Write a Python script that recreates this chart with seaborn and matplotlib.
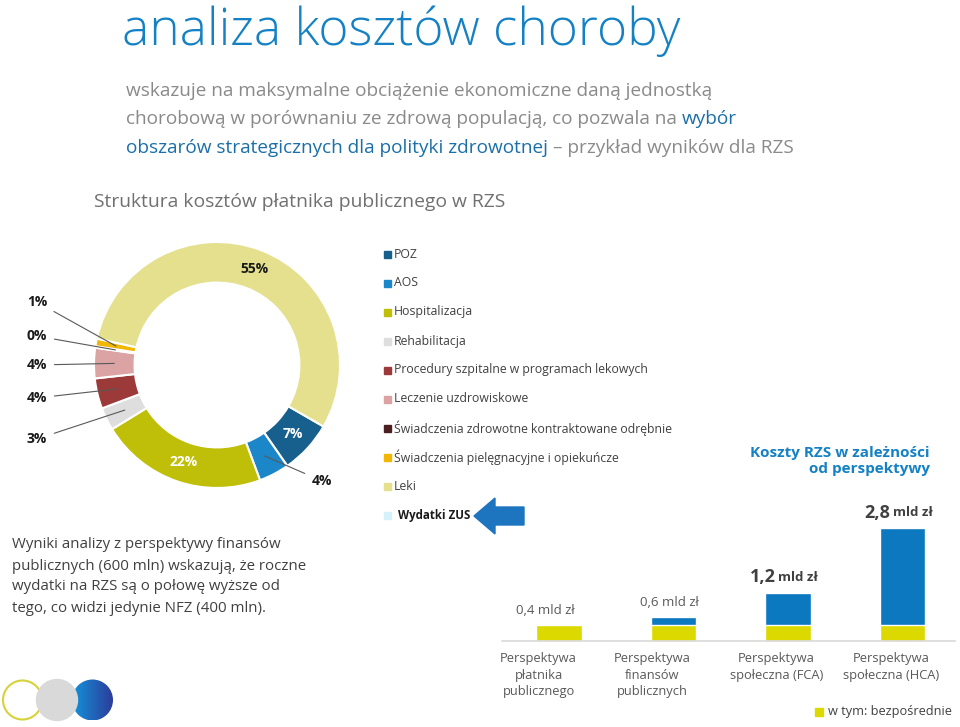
import numpy as np
import matplotlib
matplotlib.use('Agg')
import matplotlib.pyplot as plt
import matplotlib.patches as mpatches
from matplotlib.colors import LinearSegmentedColormap
import seaborn as sns

# --- data: structure of public payer costs (donut) ---
cost_categories = ['POZ', 'AOS', 'Hospitalizacja', 'Rehabilitacja',
                   'Procedury szpitalne w programach lekowych', 'Leczenie uzdrowiskowe',
                   'Świadczenia zdrowotne kontraktowane odrębnie',
                   'Świadczenia pielęgnacyjne i opiekuńcze', 'Leki']
cost_shares = [7, 4, 22, 3, 4, 4, 0.2, 1, 55]
share_labels = ['7%', '4%', '22%', '3%', '4%', '4%', '0%', '1%', '55%']
cost_colors = ['#175f8c', '#1b87c9', '#bfbe08', '#dedede', '#9b3a38',
               '#dba3a3', '#4b1f22', '#f2b705', '#e4e08d']

# --- data: costs by perspective (bars) ---
perspectives = ['Perspektywa\npłatnika\npublicznego', 'Perspektywa\nfinansów\npublicznych',
                'Perspektywa\nspołeczna (FCA)', 'Perspektywa\nspołeczna (HCA)']
total_cost = [0.4, 0.6, 1.2, 2.8]   # mld zł
direct_cost = [0.4, 0.4, 0.4, 0.4]  # w tym: bezpośrednie
cost_labels = ['0,4', '0,6', '1,2', '2,8']
emphasised = [False, False, True, True]

W, H = 960, 727
BLUE_T = '#1581c5'
GRAY_T = '#8a8a8a'
DARK_T = '#404040'
BAR_BLUE = '#0b78c0'
BAR_YELLOW = '#dcd900'

sns.set_theme(style='white')
plt.rcParams['font.family'] = ['Open Sans', 'DejaVu Sans']


def fig_rect(x0, y0, w, h):
    return [x0 / W, 1 - (y0 + h) / H, w / W, h / H]


fig = plt.figure(figsize=(W / 100, H / 100), dpi=100)

# overlay axes in pixel units for the slide texts and decorations
ov = fig.add_axes([0, 0, 1, 1])
ov.axis('off')
renderer = fig.canvas.get_renderer()


def text_runs(x, y, parts, fontsize, **kw):
    space = fontsize * 0.27 * 100 / 72
    for s, color in parts:
        t = ov.text(x, y, s, color=color, fontsize=fontsize, **kw)
        x += t.get_window_extent(renderer=renderer).width + space


ov.text(122, 45, 'analiza kosztów choroby', fontsize=37, color=BLUE_T,
        fontweight='light', va='baseline')

sub_fs = 13.7
text_runs(126, 96, [('wskazuje na maksymalne obciążenie ekonomiczne daną jednostką', GRAY_T)],
          sub_fs, va='baseline')
text_runs(126, 124, [('chorobową w porównaniu ze zdrową populacją, co pozwala na', GRAY_T),
                     ('wybór', '#1a6fa8')], sub_fs, va='baseline')
text_runs(126, 153, [('obszarów strategicznych dla polityki zdrowotnej', '#1a6fa8'),
                     ('– przykład wyników dla RZS', GRAY_T)], sub_fs, va='baseline')

ov.text(94, 207, 'Struktura kosztów płatnika publicznego w RZS', fontsize=13.9,
        color='#707070', va='baseline')

# legend of the donut
for i, (cat, col) in enumerate(zip(cost_categories, cost_colors)):
    y = 254 + 29 * i
    ov.add_patch(mpatches.Rectangle((384, y - 3.5), 7, 7, color=col))
    ov.text(394, y, cat, fontsize=8.8, color=DARK_T, va='center')
ov.add_patch(mpatches.Rectangle((384, 512), 7, 7, color='#d5f1fa'))
ov.text(398, 516, 'Wydatki ZUS', fontsize=8.3, color='#1a1a1a', va='center', fontweight='bold')

# arrow pointing at "Wydatki ZUS"
ov.add_patch(mpatches.Polygon([(474, 516), (495, 498), (495, 507), (524, 507),
                               (524, 525), (495, 525), (495, 534)],
                              closed=True, color='#1d74bf'))

# left note
note = ['Wyniki analizy z perspektywy finansów',
        'publicznych (600 mln) wskazują, że roczne',
        'wydatki na RZS są o połowę wyższe od',
        'tego, co widzi jedynie NFZ (400 mln).']
for i, line in enumerate(note):
    ov.text(12, 545 + 21 * i, line, fontsize=10.8, color=DARK_T, va='center')

# bar chart title and legend
ov.text(930, 461, 'Koszty RZS w zależności\nod perspektywy', fontsize=11,
        color=BLUE_T, fontweight='bold', ha='right', va='center',
        multialignment='right', linespacing=1.1)
ov.add_patch(mpatches.Rectangle((815, 708), 8, 8, color=BAR_YELLOW))
ov.text(828, 712, 'w tym: bezpośrednie', fontsize=9.2, color=DARK_T, va='center')

# logo circles
ov.add_patch(mpatches.Circle((22.5, 700), 19.5, fill=False, ec='#d7d23c', lw=1.5))
ov.add_patch(mpatches.Circle((57, 700), 20.5, color='#d9d9d9'))
clip = mpatches.Circle((92.5, 700), 20.5, fc='none', ec='none')
ov.add_patch(clip)
grad = np.linspace(0, 1, 100).reshape(1, -1)
im = ov.imshow(grad, extent=[72, 113, 720.5, 679.5], aspect='auto',
               cmap=LinearSegmentedColormap.from_list('lg', ['#1592da', '#2c3d9b']))
im.set_clip_path(clip)

ov.set_xlim(0, W)
ov.set_ylim(H, 0)

# --- donut ---
CX, CY, R = 217, 365, 123
axp = fig.add_axes(fig_rect(CX - 150, CY - 150, 300, 300))
wedges, _ = axp.pie(cost_shares, colors=cost_colors, startangle=-30, counterclock=False,
                    radius=1, wedgeprops=dict(width=0.33, edgecolor='white', linewidth=1.5))
lim = 150 / R
axp.set_xlim(-lim, lim)
axp.set_ylim(-lim, lim)

inside = {0: 'white', 2: 'white', 8: '#1a1a1a'}
outside = {7: (47, 302, 'right'), 6: (47, 336, 'right'), 5: (47, 365, 'right'),
           4: (47, 398, 'right'), 3: (47, 439, 'right'), 1: (322, 481, 'center')}
for i, w in enumerate(wedges):
    ang = np.deg2rad((w.theta1 + w.theta2) / 2)
    mx, my = 0.835 * np.cos(ang), 0.835 * np.sin(ang)
    if i in inside:
        axp.text(mx, my, share_labels[i], color=inside[i], fontsize=10,
                 fontweight='bold', ha='center', va='center')
    else:
        px, py, ha = outside[i]
        axp.annotate(share_labels[i], xy=(mx, my),
                     xytext=((px - CX) / R, (CY - py) / R), textcoords='data',
                     ha=ha, va='center', fontsize=10, fontweight='bold', color='#1a1a1a',
                     annotation_clip=False,
                     arrowprops=dict(arrowstyle='-', color='#595959', lw=0.8,
                                     shrinkA=3, shrinkB=0))

# --- bars ---
axb = fig.add_axes(fig_rect(502, 440, 453, 201))
sns.barplot(x=perspectives, y=total_cost, color=BAR_BLUE, saturation=1, width=0.4, ax=axb)
sns.barplot(x=perspectives, y=direct_cost, color=BAR_YELLOW, saturation=1, width=0.4, ax=axb)
axb.set_xlim(-0.5, 3.46)
axb.set_ylim(0, 201 / 40.4)
axb.set_yticks([])
axb.set_xlabel('')
axb.set_ylabel('')
axb.set_xticks(np.arange(len(perspectives)) + np.array([-0.18, -0.19, -0.1, -0.1]))
axb.set_xticklabels(perspectives, fontsize=9.3, color='#595959', linespacing=1.35)
axb.tick_params(axis='x', length=0, pad=8)
sns.despine(ax=axb, left=True)
axb.spines['bottom'].set_color('#d9d9d9')
axb.spines['bottom'].set_linewidth(1.2)
axb.patch.set_alpha(0)

for i, (tot, lab, emph) in enumerate(zip(total_cost, cost_labels, emphasised)):
    if emph:
        axb.annotate(lab, xy=(i, tot), xytext=(-9, 11), textcoords='offset points',
                     ha='right', va='center', fontsize=13, fontweight='bold', color=DARK_T)
        axb.annotate('mld zł', xy=(i, tot), xytext=(-7, 11), textcoords='offset points',
                     ha='left', va='center', fontsize=9.5, fontweight='bold', color=DARK_T)
    else:
        axb.annotate(f'{lab} mld zł', xy=(i, tot), xytext=(-10 if i == 0 else -3, 10),
                     textcoords='offset points', ha='center', va='center',
                     fontsize=9.5, color='#595959')

fig.savefig('out.png', dpi=100)
